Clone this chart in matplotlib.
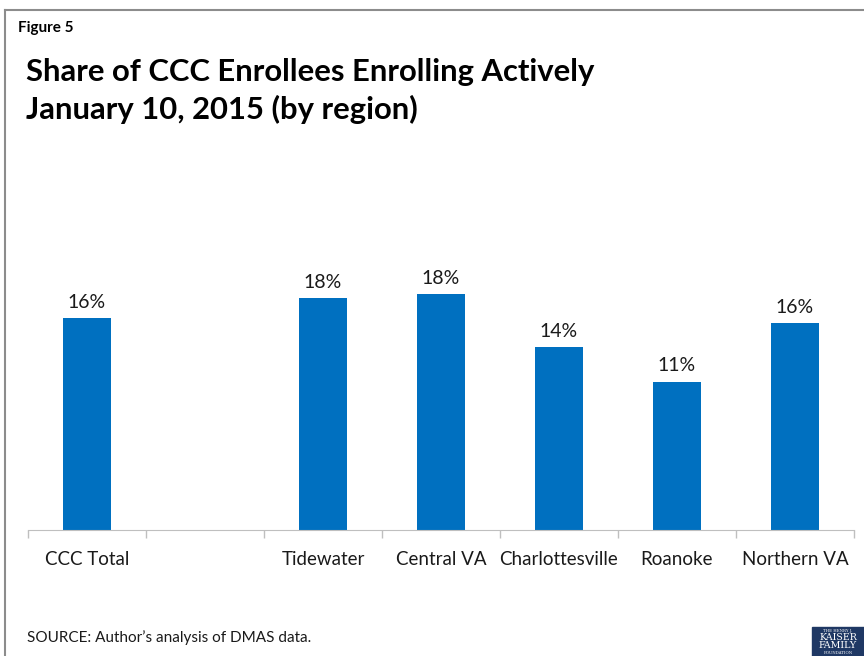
import matplotlib.pyplot as plt
from matplotlib.patches import Rectangle

# data
regions = ["CCC Total", "", "Tidewater", "Central VA", "Charlottesville", "Roanoke", "Northern VA"]
shares = [16.0, None, 17.5, 17.8, 13.8, 11.2, 15.6]
labels = ["16%", "", "18%", "18%", "14%", "11%", "16%"]

plt.rcParams["font.family"] = ["Lato", "DejaVu Sans"]

fig = plt.figure(figsize=(8.64, 6.56), dpi=100)
W, H = 864, 656

# plot area in pixels: x 28..854, baseline y 530
ax = fig.add_axes([28 / W, (H - 530) / H, (854 - 28) / W, 265 / H])

xs = [i for i, v in enumerate(shares) if v is not None]
vals = [v for v in shares if v is not None]
bars = ax.bar(xs, vals, width=0.4, color="#0070C0")
for x, v, lab in zip(xs, vals, [l for l in labels if l]):
    ax.text(x, v + 0.55, lab, ha="center", va="bottom", fontsize=14, color="#1a1a1a")

ax.set_xlim(-0.5, len(regions) - 0.5)
ax.set_ylim(0, 20)
ax.set_yticks([])
ax.set_xticks(range(len(regions)))
ax.set_xticklabels(regions, fontsize=13.5, color="#1a1a1a")
ax.set_xticks([i - 0.5 for i in range(len(regions) + 1)], minor=True)
ax.tick_params(axis="x", which="major", length=0, pad=15)
ax.tick_params(axis="x", which="minor", length=6, color="#bfbfbf", width=1)
for s in ["top", "right", "left"]:
    ax.spines[s].set_visible(False)
ax.spines["bottom"].set_color("#bfbfbf")

# frame lines
fig.add_artist(plt.Line2D([5 / W, 5 / W], [0, (H - 10) / H], color="#8c8c8c", lw=1.5))
fig.add_artist(plt.Line2D([5 / W, 1], [(H - 10) / H, (H - 10) / H], color="#8c8c8c", lw=1.5))

fig.text(18 / W, 1 - 28 / H, "Figure 5", fontsize=11, fontweight="bold", va="center")
fig.text(26 / W, 1 - 72 / H, "Share of CCC Enrollees Enrolling Actively", fontsize=22.3,
         fontweight="bold", va="center")
fig.text(26 / W, 1 - 109 / H, "January 10, 2015 (by region)", fontsize=22.3,
         fontweight="bold", va="center")
fig.text(27 / W, 1 - 638 / H, "SOURCE: Author\u2019s analysis of DMAS data.", fontsize=11,
         va="center", color="#1a1a1a")

# logo
fig.add_artist(Rectangle((812 / W, 0), 52 / W, 29 / H, transform=fig.transFigure,
                         color="#1f3864", zorder=5))
fig.text(838 / W, 1 - 631 / H, "THE HENRY J.", fontsize=2.8, color="white", ha="center",
         va="center", family="DejaVu Serif", zorder=6)
fig.text(838 / W, 1 - 638 / H, "KAISER", fontsize=6.8, color="white", ha="center",
         va="center", family="DejaVu Serif", zorder=6)
fig.text(838 / W, 1 - 646 / H, "FAMILY", fontsize=6.8, color="white", ha="center",
         va="center", family="DejaVu Serif", zorder=6)
fig.text(838 / W, 1 - 653 / H, "FOUNDATION", fontsize=2.8, color="white", ha="center",
         va="center", family="DejaVu Serif", zorder=6)

fig.savefig("out.png", dpi=100)
